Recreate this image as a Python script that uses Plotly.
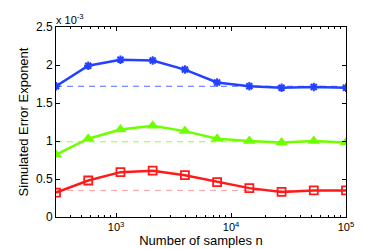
import plotly.graph_objects as go

n_samples = [300, 572, 1091, 2080, 3966, 7563, 14422, 27501, 52440, 100000]
blue_vals = [1.72, 1.99, 2.07, 2.06, 1.94, 1.77, 1.72, 1.70, 1.71, 1.70]
green_vals = [0.82, 1.03, 1.15, 1.20, 1.13, 1.03, 1.00, 0.98, 1.00, 0.98]
red_vals = [0.32, 0.48, 0.59, 0.61, 0.55, 0.46, 0.38, 0.33, 0.35, 0.35]
blue_ref = 1.72
green_ref = 0.99
red_ref = 0.35
x_ticks = [1e3, 1e4, 1e5]
x_ticktext = ["10<sup>3</sup>", "10<sup>4</sup>", "10<sup>5</sup>"]
y_ticks = [0, 0.5, 1, 1.5, 2, 2.5]
y_ticktext = ["0", "0.5", "1", "1.5", "2", "2.5"]

BLUE = "rgb(35,65,255)"
GREEN = "rgb(110,255,0)"
RED = "rgb(255,25,25)"

fig = go.Figure()
xr = [n_samples[0], n_samples[-1]]
fig.add_trace(go.Scatter(x=xr, y=[blue_ref] * 2, mode="lines",
                         line=dict(color="rgba(60,90,255,0.9)", width=1, dash="6px,5px"), showlegend=False))
fig.add_trace(go.Scatter(x=xr, y=[green_ref] * 2, mode="lines",
                         line=dict(color="rgba(130,255,40,0.9)", width=1, dash="6px,5px"), showlegend=False))
fig.add_trace(go.Scatter(x=xr, y=[red_ref] * 2, mode="lines",
                         line=dict(color="rgb(255,160,160)", width=1, dash="6px,5px"), showlegend=False))

fig.add_trace(go.Scatter(x=n_samples, y=blue_vals, mode="lines+markers",
                         line=dict(color=BLUE, width=2.5),
                         marker=dict(symbol="asterisk-open", size=7, color=BLUE, line=dict(color=BLUE, width=2)),
                         showlegend=False))
fig.add_trace(go.Scatter(x=n_samples, y=green_vals, mode="lines+markers",
                         line=dict(color=GREEN, width=2.5),
                         marker=dict(symbol="triangle-up", size=11, color=GREEN),
                         showlegend=False))
fig.add_trace(go.Scatter(x=n_samples, y=red_vals, mode="lines+markers",
                         line=dict(color=RED, width=2.5),
                         marker=dict(symbol="square-open", size=8, color=RED, line=dict(color=RED, width=1.8)),
                         showlegend=False))

fig.update_layout(
    width=374, height=249,
    margin=dict(l=48, r=36, t=18, b=36),
    paper_bgcolor="white", plot_bgcolor="white",
    font=dict(family="Liberation Sans, Arial, sans-serif", size=12, color="black"),
    xaxis=dict(type="log", range=[2.477, 5.0], showgrid=False, zeroline=False,
               showline=True, linecolor="black", linewidth=1, mirror="allticks",
               ticks="inside", ticklen=4, tickcolor="black",
               tickvals=x_ticks, ticktext=x_ticktext,
               minor=dict(ticks="inside", ticklen=2, tickcolor="black", dtick="D1", showgrid=False),
               title=dict(text="Number of samples n", font=dict(size=13), standoff=3),
               tickfont=dict(size=11)),
    yaxis=dict(range=[0, 2.5], showgrid=False, zeroline=False,
               showline=True, linecolor="black", linewidth=1, mirror="allticks",
               ticks="inside", ticklen=4, tickcolor="black",
               tickvals=y_ticks, ticktext=y_ticktext,
               title=dict(text="Simulated Error Exponent", font=dict(size=13), standoff=4),
               tickfont=dict(size=12)),
    annotations=[dict(text="x 10<sup>-3</sup>", xref="paper", yref="paper", x=0.0, y=1.0,
                      xanchor="left", yanchor="bottom", showarrow=False,
                      font=dict(size=11), xshift=-2, yshift=-1)],
)

fig.write_html("out.html")
